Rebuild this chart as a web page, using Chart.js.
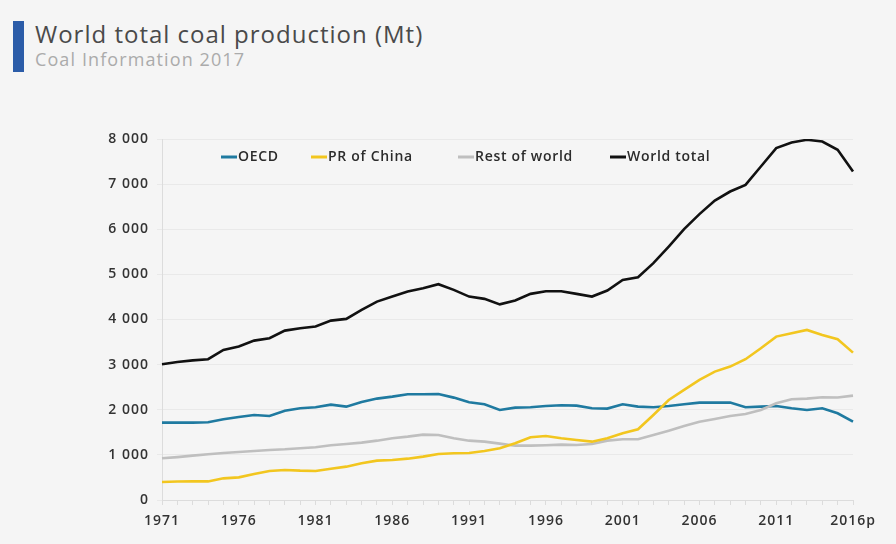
<!DOCTYPE html>
<html>
<head>
<meta charset="utf-8">
<script src="https://cdn.jsdelivr.net/npm/chart.js@4.4.1/dist/chart.umd.min.js"></script>
<style>
  html, body { margin: 0; padding: 0; background: #f5f5f5; }
  body { width: 896px; height: 544px; position: relative; overflow: hidden; font-family: "Open Sans", sans-serif; }
  #bar { position: absolute; left: 13px; top: 21px; width: 11px; height: 51px; background: #2b5ca8; }
  #title { position: absolute; left: 35px; top: 17px; font-size: 24px; color: #4a4a4a; white-space: nowrap; letter-spacing: 1px; }
  #subtitle { position: absolute; left: 35px; top: 47px; font-size: 18px; color: #ababab; white-space: nowrap; letter-spacing: 1.1px; }
  #wrap { position: absolute; left: 0; top: 0; width: 896px; height: 544px; }
</style>
</head>
<body>
<div id="bar"></div>
<div id="title">World total coal production (Mt)</div>
<div id="subtitle">Coal Information 2017</div>
<div id="wrap"><canvas id="c" width="896" height="544"></canvas></div>
<script>
const years = ["1971","1972","1973","1974","1975","1976","1977","1978","1979","1980",
  "1981","1982","1983","1984","1985","1986","1987","1988","1989","1990",
  "1991","1992","1993","1994","1995","1996","1997","1998","1999","2000",
  "2001","2002","2003","2004","2005","2006","2007","2008","2009","2010",
  "2011","2012","2013","2014","2015","2016p"];
const tickLabels = ["1971","1976","1981","1986","1991","1996","2001","2006","2011","2016p"];
const yTicks = [0,1000,2000,3000,4000,5000,6000,7000,8000];

const oecd = [1715,1715,1715,1722,1789,1840,1885,1862,1980,2033,
  2055,2114,2069,2173,2247,2291,2343,2343,2350,2269,
  2166,2121,1996,2047,2055,2084,2099,2092,2033,2025,
  2121,2069,2055,2084,2121,2158,2158,2158,2055,2069,
  2084,2033,1996,2033,1922,1736];
const china = [399,410,412,412,480,502,576,643,665,650,
  643,694,739,813,872,887,916,961,1020,1035,
  1042,1086,1146,1257,1390,1419,1368,1330,1293,1368,
  1479,1567,1885,2217,2439,2661,2845,2956,3120,3364,
  3621,3695,3769,3659,3563,3266];
const restOfWorld = [924,950,983,1013,1042,1064,1086,1109,1123,1146,
  1168,1212,1242,1271,1315,1368,1404,1448,1441,1368,
  1315,1293,1250,1204,1204,1212,1227,1220,1242,1315,
  1345,1345,1441,1537,1641,1736,1796,1862,1907,1996,
  2144,2233,2247,2277,2270,2313];
const worldTotal = [3009,3060,3095,3120,3326,3400,3532,3585,3754,3807,
  3843,3976,4013,4213,4397,4508,4619,4693,4782,4656,
  4508,4457,4335,4420,4568,4627,4627,4568,4508,4641,
  4878,4937,5248,5617,6002,6335,6637,6836,6984,7390,
  7798,7922,7982,7945,7761,7280];

const seriesNames = ["OECD","PR of China","Rest of world","World total"];
const seriesColors = ["#1f7aa0","#f2c61f","#bfbfbf","#111111"];

const FONT = '"Open Sans", sans-serif';

const spacingPlugin = {
  id: 'spacing',
  beforeDraw(chart) { chart.ctx.letterSpacing = '1px'; }
};

const legendPlugin = {
  id: 'inlineLegend',
  afterDatasetsDraw(chart) {
    const ctx = chart.ctx;
    const xs = [221, 311, 458, 610];
    const y = 157;
    ctx.save();
    ctx.letterSpacing = '0.7px';
    ctx.font = '600 14px ' + FONT;
    ctx.textBaseline = 'middle';
    ctx.textAlign = 'left';
    chart.data.datasets.forEach((ds, i) => {
      ctx.strokeStyle = ds.borderColor;
      ctx.lineWidth = 3;
      ctx.beginPath();
      ctx.moveTo(xs[i], y);
      ctx.lineTo(xs[i] + 16, y);
      ctx.stroke();
      ctx.fillStyle = '#2b2b2b';
      ctx.fillText(ds.label, xs[i] + 17, y);
    });
    ctx.restore();
  }
};

const datasets = [oecd, china, restOfWorld, worldTotal].map((d, i) => ({
  label: seriesNames[i],
  data: d,
  borderColor: seriesColors[i],
  backgroundColor: seriesColors[i],
  borderWidth: 2.6,
  pointRadius: 0,
  tension: 0,
  fill: false
}));
const order = [3, 1, 2, 0];
datasets.forEach((ds, i) => { ds.order = order[i]; });

new Chart(document.getElementById('c'), {
  type: 'line',
  data: { labels: years, datasets },
  options: {
    responsive: false,
    animation: false,
    layout: { padding: { left: 0, top: 139, right: 43, bottom: 0 } },
    plugins: { legend: { display: false }, title: { display: false }, tooltip: { enabled: false } },
    scales: {
      x: {
        type: 'category',
        offset: false,
        grid: { drawOnChartArea: false, drawTicks: true, tickLength: 5, color: '#dcdcdc' },
        border: { display: true, color: '#dcdcdc', width: 1 },
        ticks: {
          autoSkip: false,
          maxRotation: 0,
          padding: 8,
          color: '#333',
          font: { family: FONT, size: 14, weight: '600' },
          callback: function(v, i) {
            const lab = years[i];
            return tickLabels.includes(lab) ? lab : '';
          }
        },
        afterFit(scale) { scale.height = 44; }
      },
      y: {
        min: 0, max: 8000,
        afterBuildTicks(scale) { scale.ticks = yTicks.map(v => ({ value: v })); },
        grid: { color: '#e9e9e9', drawTicks: true, tickLength: 5, lineWidth: 1 },
        border: { display: true, color: '#dcdcdc', width: 1 },
        ticks: {
          padding: 8,
          color: '#333',
          font: { family: FONT, size: 14, weight: '600' },
          callback: v => v === 0 ? '0' : String(v).replace(/\B(?=(\d{3})+(?!\d))/g, ' ')
        },
        afterFit(scale) { scale.width = 162; }
      }
    }
  },
  plugins: [spacingPlugin, legendPlugin]
});
</script>
</body>
</html>
